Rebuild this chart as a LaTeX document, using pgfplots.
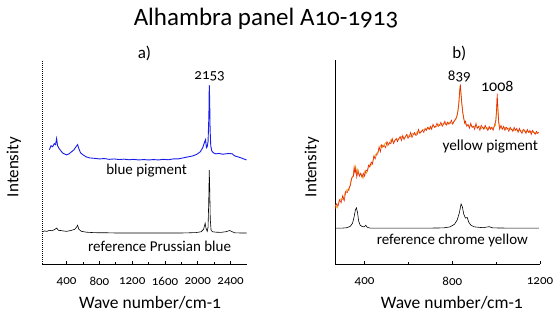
\documentclass[border=0pt]{standalone}
\usepackage{pgfplots}
\pgfplotsset{compat=1.18}
\usetikzlibrary{calc}
\usepackage{fontspec}
\setmainfont{Carlito}[Numbers=OldStyle]
\definecolor{bluep}{RGB}{25,30,230}
\definecolor{redp}{RGB}{230,40,10}
\definecolor{orangep}{RGB}{240,165,30}
\pgfplotsset{myax/.style={scale only axis, width=205pt, height=204pt, ymin=0, ymax=100,
  clip mode=individual,
  axis x line=bottom, axis y line=left, axis line style={-, line width=0.6pt},
  ytick=\empty, tick align=inside, major tick length=3pt, minor tick length=2pt,
  tick style={black, line width=0.6pt},
  xticklabel style={font=\fontsize{13}{15}\selectfont, yshift=-10pt},
  /pgf/number format/assume math mode=true,
  /pgf/number format/set thousands separator={}}}
\begin{document}
\begin{tikzpicture}[x=1pt,y=1pt]
\path[use as bounding box] (0,0) rectangle (560,321);
\node[font=\fontsize{25}{29}\selectfont] at (266,302) {Alhambra panel A10-1913};
% ---------------- panel a
\begin{axis}[myax, at={(42pt,57pt)}, anchor=south west, xmin=100, xmax=2600,
  xtick={400,800,...,2400}, minor x tick num=1,
  y axis line style={dash pattern=on 1pt off 1pt}]
\addplot[black, line width=0.6pt] coordinates {
(100,15.8)(130,16.2)(160,16.0)(190,16.5)(220,16.3)(250,16.8)(280,17.6)(300,16.5)(330,16.4)(360,16.2)(400,16.0)(450,16.4)(500,17.0)(520,18.0)(534,19.0)(550,17.0)(580,16.0)(640,15.6)(720,15.4)(800,15.3)(900,15.3)(1000,15.2)(1100,15.2)(1200,15.2)(1300,15.2)(1400,15.2)(1500,15.2)(1600,15.2)(1700,15.2)(1800,15.2)(1900,15.3)(1980,15.4)(2040,15.8)(2070,17.0)(2090,20.0)(2100,17.5)(2115,16.0)(2125,18.0)(2133,30.0)(2140,46.0)(2146,36.0)(2152,22.0)(2162,16.5)(2180,15.8)(2220,15.6)(2280,15.5)(2340,15.8)(2390,16.4)(2410,16.0)(2450,15.3)(2520,15.2)(2595,15.2)};
\addplot[bluep, line width=0.9pt] coordinates {
(190,56.0)(210,58.0)(230,57.5)(250,59.0)(265,58.5)(278,61.5)(290,58.0)(310,56.5)(330,55.5)(350,54.5)(370,54.0)(400,53.5)(430,54.0)(460,55.0)(490,56.0)(515,57.5)(534,58.5)(550,56.5)(570,54.5)(600,53.5)(640,52.5)(680,52.0)(740,51.8)(800,51.5)(860,51.7)(920,51.3)(980,51.5)(1040,51.2)(1100,51.4)(1160,51.1)(1220,51.3)(1280,51.0)(1340,51.2)(1400,51.0)(1460,51.2)(1520,51.0)(1580,51.3)(1640,51.1)(1700,51.5)(1760,51.5)(1820,52.0)(1880,52.5)(1940,53.0)(1990,53.8)(2030,55.0)(2060,57.0)(2085,60.0)(2095,61.0)(2105,57.0)(2115,57.5)(2125,60.0)(2135,72.0)(2140,87.7)(2145,80.0)(2150,66.0)(2158,58.0)(2170,55.5)(2190,54.5)(2220,54.0)(2260,54.2)(2300,53.8)(2340,54.0)(2380,54.2)(2420,54.0)(2450,53.0)(2490,52.5)(2530,52.0)(2560,51.5)(2595,51.0)};
\node[font=\fontsize{15}{17}\selectfont] at (axis cs:1376,46) {blue pigment};
\node[font=\fontsize{15}{17}\selectfont] at (axis cs:1534,8.8) {reference Prussian blue};
\node[font=\fontsize{15}{17}\selectfont] at (axis cs:2144,92) {2153};
\node[font=\fontsize{17}{20}\selectfont] at ($(rel axis cs:0.5,1)+(0pt,7pt)$) {a)};
\node[font=\fontsize{17.5}{20}\selectfont] at ($(rel axis cs:0.527,0)+(0pt,-39pt)$) {Wave number/cm-1};
\node[font=\fontsize{17}{20}\selectfont, rotate=90] at ($(rel axis cs:0,0.475)+(-28pt,0pt)$) {Intensity};
\end{axis}
% ---------------- panel b
\begin{axis}[myax, at={(335pt,57pt)}, anchor=south west, xmin=265, xmax=1200,
  xtick={400,800,1200}, minor x tick num=1]
\addplot[black, line width=0.6pt] coordinates {
(265,17.6)(300,17.6)(320,17.8)(335,18.5)(345,20.0)(352,23.0)(358,26.5)(363,27.5)(368,25.0)(373,21.0)(380,19.0)(390,18.3)(398,18.2)(405,19.0)(412,18.0)(425,17.6)(500,17.6)(600,17.6)(700,17.6)(760,17.7)(790,18.2)(810,19.5)(822,21.5)(832,25.0)(840,29.4)(846,28.0)(852,24.5)(860,22.5)(868,22.8)(875,20.5)(885,19.0)(900,18.2)(940,17.8)(968,18.3)(985,17.7)(1050,17.6)(1195,17.6)};
\addplot[orangep, line width=0.8pt] coordinates {
(266,29.0)(275,27.5)(284,31.0)(293,32.0)(302,31.5)(311,35.0)(320,36.5)(329,36.0)(338,41.0)(347,43.0)(353,46.5)(358,48.0)(363,44.5)(369,46.5)(377,43.5)(385,44.0)(393,42.0)(401,45.5)(409,44.5)(417,47.0)(425,49.0)(433,48.5)(441,51.5)(449,53.5)(457,54.5)(465,55.5)(473,58.0)(481,57.0)(489,58.5)(497,59.5)(505,58.0)(513,59.0)(521,61.0)(529,60.0)(537,60.5)(545,61.5)(553,61.0)(561,61.5)(569,62.5)(577,61.5)(585,62.0)(593,63.5)(601,62.5)(609,62.5)(617,64.0)(625,63.5)(633,63.5)(641,65.0)(649,64.5)(657,64.5)(665,66.0)(673,65.5)(681,66.0)(689,67.0)(697,66.0)(705,67.0)(713,68.0)(721,67.0)(729,67.5)(737,68.5)(745,68.0)(753,68.5)(761,69.0)(769,68.5)(777,68.5)(785,69.5)(793,69.0)(801,69.0)(809,70.0)(817,71.0)(823,73.5)(829,78.0)(833,84.0)(836,87.5)(839,84.0)(843,79.0)(847,75.0)(853,71.0)(861,68.5)(869,68.0)(877,67.5)(885,68.0)(893,67.0)(901,67.5)(909,67.0)(917,67.0)(925,67.5)(933,66.5)(941,67.0)(949,66.5)(957,67.0)(965,66.0)(973,67.0)(981,66.5)(989,67.0)(997,68.0)(1001,73.0)(1004,80.0)(1007,78.0)(1011,70.0)(1017,67.0)(1025,66.5)(1033,66.5)(1041,67.0)(1049,66.0)(1057,66.5)(1065,66.0)(1073,66.0)(1081,65.5)(1089,66.0)(1097,65.5)(1105,65.5)(1113,65.0)(1121,65.5)(1129,65.0)(1137,65.0)(1145,65.0)(1153,64.5)(1161,65.0)(1169,64.5)(1177,64.5)(1185,64.0)(1193,64.5)};
\addplot[redp, line width=0.6pt] coordinates {
(265,27.0)(272,29.5)(279,28.5)(286,31.5)(293,30.0)(300,33.5)(307,31.0)(314,35.5)(321,35.0)(328,37.0)(335,38.5)(342,42.5)(349,43.0)(352,47.5)(356,44.5)(360,47.0)(364,42.5)(370,45.5)(376,43.0)(382,44.5)(388,42.5)(394,44.5)(400,43.0)(406,46.0)(412,45.5)(418,48.5)(424,47.5)(430,50.0)(436,49.0)(442,53.0)(448,51.5)(454,53.5)(460,54.0)(466,57.5)(472,55.0)(478,58.5)(484,57.5)(490,58.0)(496,57.0)(502,60.0)(508,58.5)(514,59.5)(520,59.0)(526,61.5)(532,59.0)(538,60.5)(544,61.5)(550,60.0)(556,61.5)(562,62.5)(568,60.5)(574,63.0)(580,61.0)(586,62.5)(592,63.5)(598,61.5)(604,62.5)(610,64.5)(616,62.0)(622,63.5)(628,64.5)(634,63.0)(640,63.5)(646,66.0)(652,64.0)(658,65.0)(664,65.5)(670,64.5)(676,66.5)(682,65.5)(688,67.0)(694,66.0)(700,67.5)(706,66.0)(712,68.5)(718,67.0)(724,67.5)(730,69.0)(736,67.5)(742,68.0)(748,69.5)(754,67.5)(760,68.5)(766,70.0)(772,68.0)(778,69.5)(784,68.5)(790,69.0)(796,70.5)(802,68.5)(808,70.0)(814,71.0)(820,72.0)(826,75.0)(830,79.0)(834,85.0)(837,88.0)(840,83.0)(844,78.0)(848,74.0)(852,71.5)(856,69.0)(860,70.0)(866,67.5)(872,68.5)(878,66.5)(884,69.0)(890,67.0)(896,67.5)(902,66.0)(908,69.0)(914,66.5)(920,67.5)(926,65.5)(932,68.0)(938,67.0)(944,66.0)(950,68.0)(956,66.5)(962,65.5)(968,67.5)(974,66.0)(980,67.0)(986,65.5)(992,68.0)(998,70.0)(1002,76.0)(1005,83.5)(1008,76.0)(1012,69.0)(1016,66.0)(1022,68.0)(1028,66.0)(1034,67.5)(1040,65.5)(1046,67.0)(1052,66.5)(1058,65.0)(1064,67.0)(1070,66.0)(1076,65.0)(1082,67.0)(1088,65.5)(1094,66.5)(1100,64.5)(1106,66.5)(1112,65.0)(1118,64.0)(1124,66.0)(1130,65.5)(1136,64.0)(1142,66.0)(1148,64.5)(1154,65.5)(1160,63.5)(1166,65.5)(1172,64.5)(1178,63.5)(1184,65.0)(1190,64.0)(1195,64.5)};
\node[font=\fontsize{15.3}{17}\selectfont] at (axis cs:973,57.4) {yellow pigment};
\node[font=\fontsize{15}{17}\selectfont] at (axis cs:800,11.3) {reference chrome yellow};
\node[font=\fontsize{15}{17}\selectfont] at (axis cs:832,91.7) {839};
\node[font=\fontsize{16}{18}\selectfont] at (axis cs:1005,86.8) {1008};
\node[font=\fontsize{17}{20}\selectfont] at ($(axis cs:832,100)+(0pt,7pt)$) {b)};
\node[font=\fontsize{17.5}{20}\selectfont] at ($(rel axis cs:0.57,0)+(0pt,-39pt)$) {Wave number/cm-1};
\node[font=\fontsize{17}{20}\selectfont, rotate=90] at ($(rel axis cs:0,0.475)+(-23pt,0pt)$) {Intensity};
\end{axis}
\end{tikzpicture}
\end{document}
